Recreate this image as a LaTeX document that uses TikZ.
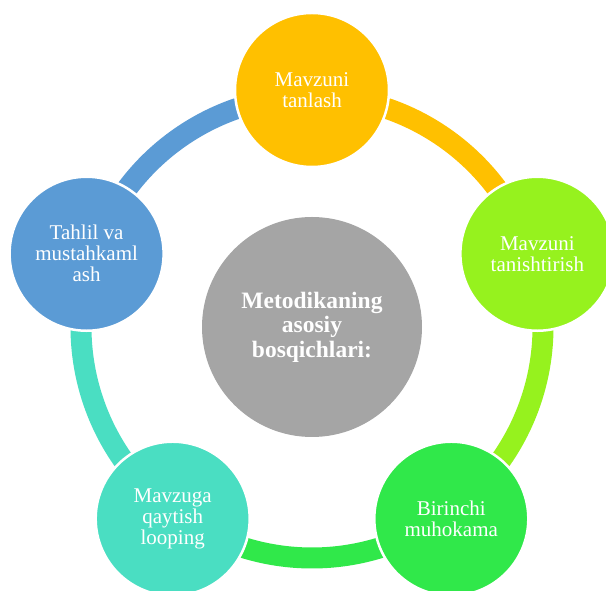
\documentclass[tikz,border=0pt]{standalone}
\usepackage{fontspec}
\setmainfont{Liberation Serif}
\definecolor{cOrange}{HTML}{FFC000}
\definecolor{cLime}{HTML}{96F21E}
\definecolor{cGreen}{HTML}{30E84A}
\definecolor{cTeal}{HTML}{4ADEC2}
\definecolor{cBlue}{HTML}{5B9BD5}
\definecolor{cGray}{HTML}{A5A5A5}
\begin{document}
\begin{tikzpicture}[x=1pt,y=1pt,
  stage/.style={circle, minimum size=154pt, inner sep=0pt, draw=white, line width=2.5pt,
    text=white, align=center, font=\fontsize{21}{21}\selectfont},
  hub/.style={circle, minimum size=220pt, inner sep=0pt, fill=cGray,
    text=white, align=center, font=\fontsize{23.5}{24.5}\selectfont\bfseries},
  ringarc/.style={line width=21pt}]
\useasboundingbox (0,0) rectangle (606,591);
\clip (0,0) rectangle (606,591);
\coordinate (C) at (312,264);
% ring arcs
\draw[ringarc, cOrange] (C) ++(90:231) arc[start angle=90, end angle=18, radius=231];
\draw[ringarc, cLime] (C) ++(18:231) arc[start angle=18, end angle=-54, radius=231];
\draw[ringarc, cGreen] (C) ++(-54:231) arc[start angle=-54, end angle=-126, radius=231];
\draw[ringarc, cTeal] (C) ++(-126:231) arc[start angle=-126, end angle=-198, radius=231];
\draw[ringarc, cBlue] (C) ++(162:231) arc[start angle=162, end angle=90, radius=231];
% centre
\node[hub] (hub) at (C) {Metodikaning\\asosiy\\bosqichlari:};
% stages
\node[stage, fill=cOrange] (s1) at ([shift={(90:237)}]C) {Mavzuni\\tanlash};
\node[stage, fill=cLime] (s2) at ([shift={(18:237)}]C) {Mavzuni\\tanishtirish};
\node[stage, fill=cGreen] (s3) at ([shift={(-54:237)}]C) {Birinchi\\muhokama};
\node[stage, fill=cTeal] (s4) at ([shift={(-126:237)}]C) {Mavzuga\\qaytish\\looping};
\node[stage, fill=cBlue] (s5) at ([shift={(162:237)}]C) {Tahlil va\\mustahkaml\\ash};
\end{tikzpicture}
\end{document}
